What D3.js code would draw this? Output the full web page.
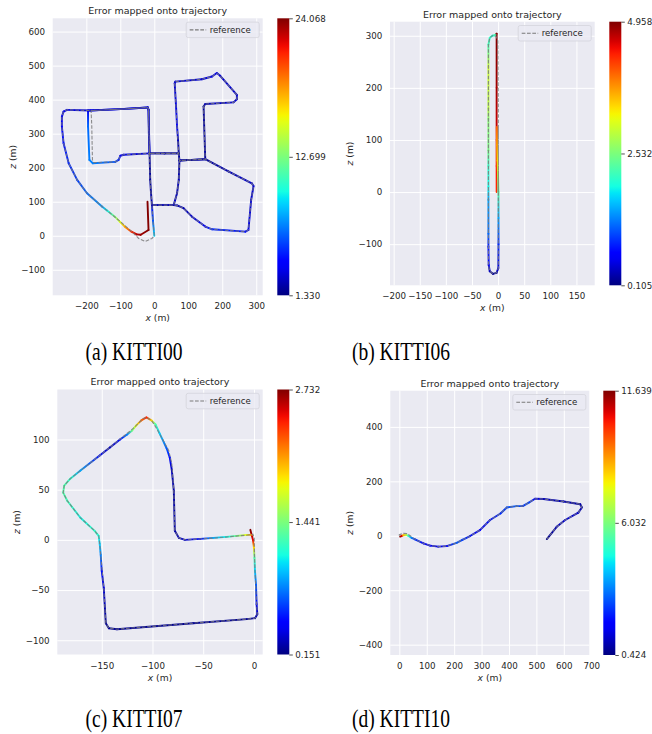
<!DOCTYPE html>
<html>
<head>
<meta charset="utf-8">
<script src="https://cdn.jsdelivr.net/npm/d3@7"></script>
<style>
  body { margin: 0; background: #fff; }
  svg { display: block; }
</style>
</head>
<body>
<div id="chart"></div>
<script>
// ---- data (x, z in metres; error per estimated point) ----

var captions = ["(a) KITTI00", "(b) KITTI06", "(c) KITTI07", "(d) KITTI10"];

// KITTI00
var k00XTicks = [-200, -100, 0, 100, 200, 300];
var k00YTicks = [-100, 0, 100, 200, 300, 400, 500, 600];
var k00XLim = [-299, 319];
var k00YLim = [-175, 639];
var k00ErrTicks = [1.330, 12.699, 24.068];
var k00Ref = [[0,0],[-4,45],[-7,90],[20,90],[57,90],[67,125],[72,164],[74,221],[110,223],[150,225],
  [218,189],[287,154],[292,146],[285,105],[277,17],[268,12],[170,19],[150,27],[111,56],[86,81],[67,89],
  [57,90],[20,90],[-7,90],[-10,130],[-12,164],[-14,242],[30,242],[72,242],[74,221],[110,223],[150,225],
  [145,380],[150,387],[233,392],[243,401],[243,414],[194,470],[184,478],[170,468],[140,460],[62,453],
  [60,448],[67,321],[72,242],[30,242],[-14,242],[-16,300],[-17,370],[-19,377],[-100,372],[-186,368],
  [-184,321],[-182,223],[-178,215],[-115,217],[-105,223],[-100,235],[-90,238],[-14,242],[-17,370],
  [-19,377],[-100,372],[-186,368],[-257,370],[-267,365],[-272,350],[-272,321],[-267,272],[-252,213],
  [-227,164],[-198,125],[-154,86],[-105,46],[-66,12],[-46,-8],[-27,-17],[-7,-8],[0,0]];
var k00Est = [[0,0,9],[-4,45,6],[-7,90,3.5],[20,90,3],[57,90,3],[67,125,2.5],[72,164,2.5],[74,221,2],
  [110,223,2],[150,225,2],[218,189,2.5],[287,154,3],[292,146,3],[285,105,3],[277,17,3.5],[268,12,4.5],
  [170,19,5],[150,27,4],[111,56,3],[86,81,2.5],[67,89,2.5],[57,90,2.5],[20,90,2.5],[-7,90,2.5],
  [-10,130,2],[-12,164,2],[-14,242,2],[30,242,2],[72,242,2],[74,221,2],[110,223,2],[150,225,2],
  [145,380,2],[150,387,2.5],[233,392,3],[243,401,3],[243,414,3],[194,470,3],[184,478,3.5],[170,468,3.5],
  [140,460,3],[62,453,3],[60,448,3],[64,380,3.5],[67,321,4],[70,280,2.5],[72,242,2],[30,242,2],
  [-14,242,2],[-16,300,2.5],[-17,370,3],[-19,377,3],[-100,372,3],[-195,368,3.5],[-195,321,6.5],
  [-191,223,7],[-181,213,7],[-115,217,6],[-105,223,5],[-100,235,4],[-90,238,3.5],[-14,242,3],
  [-17,370,3],[-19,377,3],[-100,372,3],[-188,368,3],[-257,370,3.5],[-267,365,3.5],[-272,350,3.5],
  [-272,321,4],[-267,272,4.5],[-252,213,5],[-227,164,5.5],[-198,125,6.5],[-154,86,7.5],[-140,75,9.5],
  [-116,56,12.7],[-101,41,15.2],[-86,26,18],[-67,12,21],[-52,4,23],[-40,3,23.5],[-17,17,24],[-20,100,24]];

// KITTI06
var k06XTicks = [-200, -150, -100, -50, 0, 50, 100, 150];
var k06YTicks = [-100, 0, 100, 200, 300];
var k06XLim = [-207, 185];
var k06YLim = [-179, 327];
var k06ErrTicks = [0.105, 2.532, 4.958];
var k06Ref = [[0.5,0],[0.5,150],[-0.5,290],[-4,299],[-10,301],[-16,296],[-18.5,283],[-18.5,150],
  [-18.5,0],[-18.5,-140],[-16,-152],[-10,-157],[-3,-155],[0.5,-146],[0.5,-100],[0.5,0],[0.5,125]];
var k06Est = [[-2.8,0,4.3],[-2.8,50,4.4],[-2.8,100,4.6],[-2.8,200,4.8],[-2.8,304,4.95],[-6,301,2.2],
  [-11,300,2.0],[-16,296,2.1],[-18.5,283,2.2],[-18.5,240,3.0],[-18.5,160,2.9],[-18.5,140,2.6],
  [-18.5,80,2.5],[-18.5,50,2.1],[-18.5,10,1.9],[-18.5,-15,1.5],[-18.5,-80,1.2],[-18.5,-105,0.8],
  [-18,-140,0.6],[-16,-152,0.35],[-10,-157,0.2],[-3,-155,0.3],[0.5,-146,0.5],[0.8,-100,0.9],
  [0.8,-50,1.5],[0.8,0,2.3],[0,30,2.8],[-1,60,3.3],[-2,90,3.7],[-2.5,125,4.0]];

// KITTI07
var k07XTicks = [-150, -100, -50, 0];
var k07YTicks = [-100, -50, 0, 50, 100];
var k07XLim = [-193.8, 8.6];
var k07YLim = [-114.2, 149.8];
var k07ErrTicks = [0.151, 1.441, 2.732];
var k07Ref = [[0.3,2],[0.5,-15],[1,-31],[2.6,-64],[3.3,-74],[1,-78],[-7,-79],[-60,-83],[-135,-89],
  [-143,-88],[-146,-83],[-148,-48],[-151,-15],[-152,-4],[-153,4],[-157,9],[-171,22],[-184,39],
  [-188,47],[-187,54],[-181,61],[-152,84],[-119,111],[-109,121],[-106,122],[-101,119],[-96,111],
  [-84,89],[-81,76],[-79,49],[-78,9],[-74,2],[-68,0],[-37,2],[-4,5],[-1,5.5],[0.3,2]];
var k07Est = [[-3.6,10,2.73],[-1,0,2.5],[0,-8,1.9],[0.5,-18,1.3],[1,-31,1.0],[2,-45,0.7],[2.6,-64,0.4],
  [3.3,-74,0.3],[1,-78,0.25],[-7,-79,0.2],[-60,-83,0.2],[-135,-89,0.2],[-143,-88,0.2],[-146,-83,0.2],
  [-148,-48,0.35],[-150,-31,0.5],[-151,-15,0.8],[-152,-4,1.0],[-153,4,1.15],[-157,9,1.2],[-171,22,1.1],
  [-184,39,1.25],[-188,47,1.3],[-187,54,1.3],[-181,61,1.2],[-171,69,0.9],[-152,84,0.5],[-142,92,0.3],
  [-132,100,0.5],[-125,105,0.8],[-120,109,1.4],[-116,114,1.8],[-111,119,2.2],[-106,122,2.4],
  [-101,119,1.9],[-97,115,1.3],[-93,106,1.0],[-86,91,0.7],[-83,82,0.5],[-81,70,0.3],[-79,49,0.25],
  [-78,9,0.25],[-74,2,0.3],[-68,0,0.35],[-53,1,0.5],[-40,2,0.9],[-27,3,1.1],[-17,4,1.4],[-7,5,1.8],
  [-2,5,2.2]];

// KITTI10
var k10XTicks = [0, 100, 200, 300, 400, 500, 600, 700];
var k10YTicks = [-400, -200, 0, 200, 400];
var k10XLim = [-33, 693];
var k10YLim = [-438, 533];
var k10ErrTicks = [0.424, 6.032, 11.639];
var k10Ref = [[0,0],[0,4],[15,9],[27,8],[40,0],[57,-13],[88,-28],[112,-36],[142,-40],[173,-38],
  [209,-26],[258,-1],[294,21],[331,58],[369,82],[392,104],[428,109],[450,109],[471,121],[495,136],
  [526,135],[599,126],[660,116],[666,104],[653,85],[605,58],[574,33],[538,-12]];
var k10Est = [[3,-3,11.6],[8,-1,10.8],[15,2,8.5],[25,3,7.0],[33,0,5.0],[45,-8,3.2],[57,-13,2.4],
  [88,-28,1.8],[112,-36,1.6],[142,-40,1.5],[173,-38,1.8],[209,-26,2.8],[230,-15,2.5],[258,-1,2.0],
  [294,21,1.8],[331,58,2.0],[369,82,2.3],[392,104,2.6],[428,109,2.8],[450,109,2.4],[471,121,2.6],
  [495,136,1.8],[526,135,1.0],[599,126,0.9],[660,116,0.8],[666,104,0.9],[653,85,1.2],[605,58,1.3],
  [574,33,1.0],[538,-12,0.6]];


// ---- layout ----
var panels = [
  {id: "a", left: 52.7, top: 18.3, right: 262.7, bottom: 295.3, cbx: 277.3, capX: 134, capY: 360,
   xt: k00XTicks, yt: k00YTicks, xl: k00XLim, yl: k00YLim, et: k00ErrTicks, ref: k00Ref, est: k00Est, cap: captions[0]},
  {id: "b", left: 390, top: 21.7, right: 594.7, bottom: 285.3, cbx: 609.3, capX: 401, capY: 360,
   xt: k06XTicks, yt: k06YTicks, xl: k06XLim, yl: k06YLim, et: k06ErrTicks, ref: k06Ref, est: k06Est, cap: captions[1]},
  {id: "c", left: 57.3, top: 389.5, right: 262.7, bottom: 654.5, cbx: 277.3, capX: 134, capY: 727,
   xt: k07XTicks, yt: k07YTicks, xl: k07XLim, yl: k07YLim, et: k07ErrTicks, ref: k07Ref, est: k07Est, cap: captions[2]},
  {id: "d", left: 390.3, top: 390.7, right: 589.3, bottom: 655, cbx: 603.3, capX: 401, capY: 727,
   xt: k10XTicks, yt: k10YTicks, xl: k10XLim, yl: k10YLim, et: k10ErrTicks, ref: k10Ref, est: k10Est, cap: captions[3]}
];

var textColor = "#262626";
var sans = "DejaVu Sans, sans-serif";

// matplotlib "jet"
var jetR = d3.scaleLinear().domain([0, 0.35, 0.66, 0.89, 1]).range([0, 0, 1, 1, 0.5]).clamp(true);
var jetG = d3.scaleLinear().domain([0, 0.125, 0.375, 0.64, 0.91, 1]).range([0, 0, 1, 1, 0, 0]).clamp(true);
var jetB = d3.scaleLinear().domain([0, 0.11, 0.34, 0.65, 1]).range([0.5, 1, 1, 0, 0]).clamp(true);
function jet(t) {
  return d3.rgb(jetR(t) * 255, jetG(t) * 255, jetB(t) * 255).formatHex();
}

var svg = d3.select("#chart").append("svg")
    .attr("width", 652)
    .attr("height", 734)
    .style("background", "#fff");
var defs = svg.append("defs");

var fmt = function(d) { return d < 0 ? "\u2212" + Math.abs(d) : String(d); };

panels.forEach(function(p) {
  var w = p.right - p.left, h = p.bottom - p.top;
  var x = d3.scaleLinear().domain(p.xl).range([p.left, p.right]);
  var y = d3.scaleLinear().domain(p.yl).range([p.bottom, p.top]);
  var emin = p.et[0], emax = p.et[2];
  var color = function(e) { return jet((e - emin) / (emax - emin)); };

  var g = svg.append("g");

  g.append("rect")
      .attr("x", p.left).attr("y", p.top)
      .attr("width", w).attr("height", h)
      .attr("fill", "#EAEAF2");

  // axes with white grid
  var xa = g.append("g")
      .attr("transform", "translate(0," + p.bottom + ")")
      .call(d3.axisBottom(x).tickValues(p.xt).tickSize(-h).tickPadding(8).tickFormat(fmt));
  var ya = g.append("g")
      .attr("transform", "translate(" + p.left + ",0)")
      .call(d3.axisLeft(y).tickValues(p.yt).tickSize(-w).tickPadding(7.7).tickFormat(fmt));
  [xa, ya].forEach(function(a) {
    a.select(".domain").remove();
    a.selectAll("line").attr("stroke", "#fff").attr("stroke-width", 1);
    a.selectAll("text").attr("fill", textColor).style("font-family", sans).style("font-size", "8.7px");
  });

  // estimated trajectory coloured by error
  d3.pairs(p.est).forEach(function(s, i) {
    var id = "grad" + p.id + i;
    var gr = defs.append("linearGradient")
        .attr("id", id)
        .attr("gradientUnits", "userSpaceOnUse")
        .attr("x1", x(s[0][0])).attr("y1", y(s[0][1]))
        .attr("x2", x(s[1][0])).attr("y2", y(s[1][1]));
    gr.append("stop").attr("offset", 0).attr("stop-color", color(s[0][2]));
    gr.append("stop").attr("offset", 1).attr("stop-color", color(s[1][2]));
    g.append("line")
        .attr("x1", x(s[0][0])).attr("y1", y(s[0][1]))
        .attr("x2", x(s[1][0])).attr("y2", y(s[1][1]))
        .attr("stroke", "url(#" + id + ")")
        .attr("stroke-width", 1.9)
        .attr("stroke-linecap", "round");
  });

  // reference
  g.append("path")
      .datum(p.ref)
      .attr("d", d3.line().x(function(d) { return x(d[0]); }).y(function(d) { return y(d[1]); }))
      .attr("fill", "none")
      .attr("stroke", "#7a7a7a")
      .attr("stroke-width", 1.1)
      .attr("stroke-dasharray", "3.7,1.6")
      .attr("opacity", 0.85);

  // title
  g.append("text")
      .attr("x", (p.left + p.right) / 2)
      .attr("y", p.top - 4.2)
      .attr("text-anchor", "middle")
      .attr("fill", textColor)
      .style("font-family", sans).style("font-size", "9.5px")
      .text("Error mapped onto trajectory");

  // axis labels
  var xl = g.append("text")
      .attr("x", (p.left + p.right) / 2)
      .attr("y", p.bottom + 26)
      .attr("text-anchor", "middle")
      .attr("fill", textColor)
      .style("font-family", sans).style("font-size", "9.2px");
  xl.append("tspan").attr("font-style", "italic").text("x");
  xl.append("tspan").text(" (m)");

  var yl = g.append("text")
      .attr("transform", "translate(" + (p.left - 37) + "," + ((p.top + p.bottom) / 2) + ") rotate(-90)")
      .attr("text-anchor", "middle")
      .attr("fill", textColor)
      .style("font-family", sans).style("font-size", "9.2px");
  yl.append("tspan").attr("font-style", "italic").text("z");
  yl.append("tspan").text(" (m)");

  // legend
  var lw = 73, lh = 15.5, lx = p.right - 3.5 - lw, ly = p.top + 3.8;
  g.append("rect")
      .attr("x", lx).attr("y", ly).attr("width", lw).attr("height", lh)
      .attr("rx", 2)
      .attr("fill", "#EAEAF2").attr("fill-opacity", 0.8)
      .attr("stroke", "#d4d4dc").attr("stroke-width", 0.8);
  g.append("line")
      .attr("x1", lx + 3.5).attr("x2", lx + 20)
      .attr("y1", ly + lh / 2).attr("y2", ly + lh / 2)
      .attr("stroke", "#7a7a7a").attr("stroke-width", 1.1)
      .attr("stroke-dasharray", "3.7,1.6");
  g.append("text")
      .attr("x", lx + 23.5).attr("y", ly + lh / 2 + 3)
      .attr("fill", textColor)
      .style("font-family", sans).style("font-size", "8.6px")
      .text("reference");

  // colorbar
  var gid = "cb" + p.id;
  var cg = defs.append("linearGradient").attr("id", gid)
      .attr("x1", 0).attr("y1", 1).attr("x2", 0).attr("y2", 0);
  d3.range(0, 1.0001, 0.025).forEach(function(t) {
    cg.append("stop").attr("offset", t).attr("stop-color", jet(t));
  });
  g.append("rect")
      .attr("x", p.cbx).attr("y", p.top)
      .attr("width", 12).attr("height", h)
      .attr("fill", "url(#" + gid + ")");
  var cs = d3.scaleLinear().domain([emin, emax]).range([p.bottom, p.top]);
  var ca = g.append("g")
      .attr("transform", "translate(" + (p.cbx + 12) + ",0)")
      .call(d3.axisRight(cs).tickValues(p.et).tickSize(3.5).tickPadding(2.5).tickFormat(d3.format(".3f")));
  ca.select(".domain").remove();
  ca.selectAll("line").attr("stroke", textColor).attr("stroke-width", 0.8);
  ca.selectAll("text").attr("fill", textColor).style("font-family", sans).style("font-size", "8.7px");

  // caption
  svg.append("text")
      .attr("transform", "translate(" + p.capX + "," + p.capY + ") scale(0.78,1)")
      .attr("text-anchor", "middle")
      .attr("fill", "#000")
      .style("font-family", "Liberation Serif, serif")
      .style("font-size", "25px")
      .text(p.cap);
});
</script>
</body>
</html>
